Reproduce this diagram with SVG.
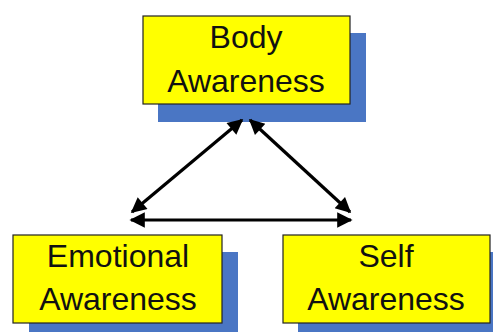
<svg xmlns="http://www.w3.org/2000/svg" width="493" height="332" viewBox="0 0 493 332">
<defs>
<style>
.shadow{fill:#4A76C4}
.box{fill:#FFFF00;stroke:#222;stroke-width:1.2}
.lbl{font-family:"Liberation Sans",Arial,sans-serif;font-size:32px;fill:#111;text-anchor:middle}
.conn{stroke:#000;stroke-width:3.2;fill:none;marker-start:url(#ah);marker-end:url(#ah)}
</style>
<marker id="ah" viewBox="0 0 10 10" refX="9" refY="5" markerWidth="5.5" markerHeight="4.8" orient="auto-start-reverse" markerUnits="strokeWidth">
<path d="M0,0 L10,5 L0,10 Z" fill="#000"/>
</marker>
</defs>
<g id="body">
<rect class="shadow" x="158" y="33" width="208" height="89"/>
<rect class="box" x="143" y="16" width="207" height="88"/>
<text class="lbl" x="246" y="48">Body</text>
<text class="lbl" x="246" y="92">Awareness</text>
</g>
<g id="emotional">
<rect class="shadow" x="29" y="252" width="209" height="90"/>
<rect class="box" x="13" y="235" width="209" height="88"/>
<text class="lbl" x="118" y="267">Emotional</text>
<text class="lbl" x="118" y="310">Awareness</text>
</g>
<g id="self">
<rect class="shadow" x="298" y="252" width="210" height="90"/>
<rect class="box" x="283" y="235" width="207" height="88"/>
<text class="lbl" x="386" y="267">Self</text>
<text class="lbl" x="386" y="310">Awareness</text>
</g>
<g id="connectors">
<line class="conn" x1="132" y1="212" x2="242" y2="120"/>
<line class="conn" x1="250" y1="120" x2="350" y2="212"/>
<line class="conn" x1="131" y1="220" x2="351" y2="220"/>
</g>
</svg>
